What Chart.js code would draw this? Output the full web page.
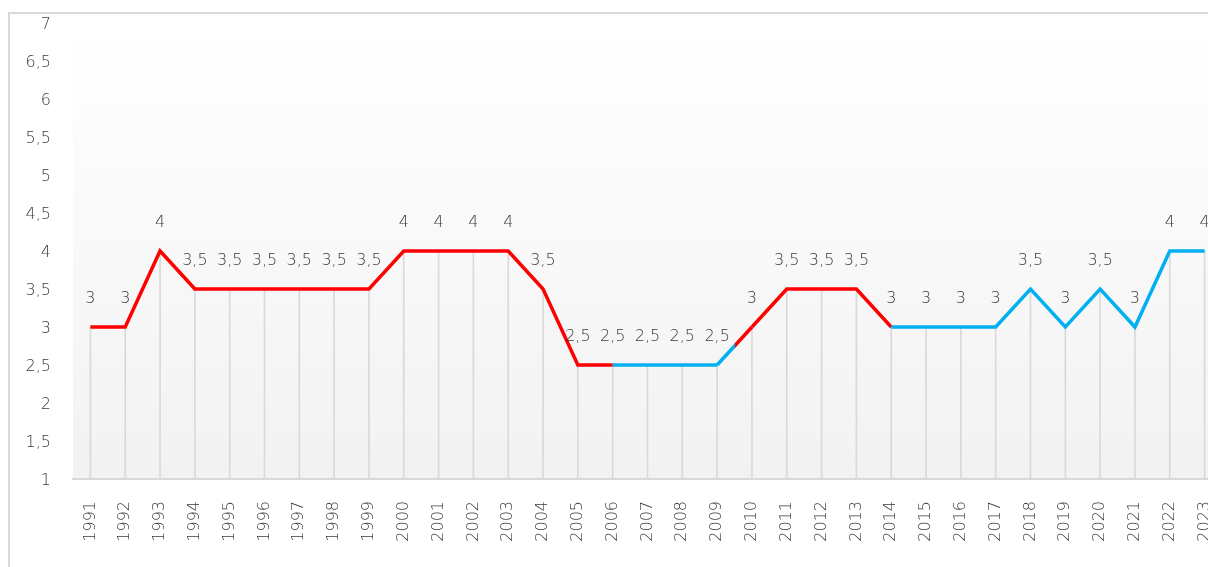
<!DOCTYPE html>
<html>
<head>
<meta charset="utf-8">
<script src="https://cdn.jsdelivr.net/npm/chart.js@4"></script>
<style>
  html, body { margin: 0; padding: 0; background: #fff; overflow: hidden; }
  #frame { position: absolute; left: 8px; top: 12px; width: 1300px; height: 600px;
           border-top: 2px solid #d9d9d9; border-left: 2px solid #d9d9d9; box-sizing: border-box; }
  #myChart { position: absolute; left: 0; top: 0; }
</style>
</head>
<body>
<div id="frame"></div>
<canvas id="myChart" width="1240" height="567"></canvas>
<script>
'use strict';

let years = ['1991','1992','1993','1994','1995','1996','1997','1998','1999','2000',
  '2001','2002','2003','2004','2005','2006','2007','2008','2009','2010',
  '2011','2012','2013','2014','2015','2016','2017','2018','2019','2020',
  '2021','2022','2023'];
let values = [3,3,4,3.5,3.5,3.5,3.5,3.5,3.5,4,
  4,4,4,3.5,2.5,2.5,2.5,2.5,2.5,3,
  3.5,3.5,3.5,3,3,3,3,3.5,3,3.5,
  3,4,4];
let yMin = 1;
let yMax = 7;
let yStep = 0.5;

let red = '#ff0000';
let blue = '#00b0f0';
let textColor = '#3a3a3a';
let font = { family: "'DejaVu Sans', sans-serif", size: 16, weight: '200' };

// colour of the segment that starts at point i
function segColor(ctx){
  let i = ctx.p0DataIndex;
  if(i <= 14) return red;
  if(i <= 17) return blue;
  if(i === 18){
    // 2009 -> 2010 : half blue, half red
    let c = ctx.chart.ctx;
    let g = c.createLinearGradient(ctx.p0.x, 0, ctx.p1.x, 0);
    g.addColorStop(0, blue);
    g.addColorStop(0.5, blue);
    g.addColorStop(0.5, red);
    g.addColorStop(1, red);
    return g;
  }
  if(i <= 22) return red;
  return blue;
}

let areaBg = {
  id: 'areaBg',
  beforeDraw(chart){
    let a = chart.chartArea;
    let c = chart.ctx;
    let g = c.createLinearGradient(0, a.top, 0, a.bottom);
    g.addColorStop(0, '#ffffff');
    g.addColorStop(1, '#f2f2f2');
    c.save();
    c.fillStyle = g;
    c.fillRect(a.left, a.top, a.right - a.left, a.bottom - a.top);
    c.restore();
  }
};

let pointLabels = {
  id: 'pointLabels',
  afterDatasetsDraw(chart){
    let c = chart.ctx;
    let meta = chart.getDatasetMeta(1);
    c.save();
    c.font = font.weight + ' ' + font.size + 'px ' + font.family;
    c.fillStyle = textColor;
    c.textAlign = 'center';
    c.textBaseline = 'middle';
    meta.data.forEach(function(pt, i){
      c.fillText(String(values[i]).replace('.', ','), pt.x, pt.y - 28);
    });
    c.restore();
  }
};

let ctx = document.getElementById('myChart').getContext('2d');
let myChart = new Chart(ctx, {
  type: 'bar',
  data: {
    labels: years,
    datasets: [{
      type: 'bar',
      data: values,
      backgroundColor: '#d9d9d9',
      barThickness: 1,
      order: 2
    },{
      type: 'line',
      data: values,
      borderColor: red,
      borderWidth: 3.5,
      pointRadius: 0,
      tension: 0,
      fill: false,
      segment: { borderColor: segColor },
      order: 0
    }]
  },
  plugins: [areaBg, pointLabels],
  options: {
    responsive: false,
    animation: false,
    layout: { padding: { top: 23, right: 18, left: 0, bottom: 0 } },
    plugins: { legend: { display: false }, tooltip: { enabled: false } },
    scales: {
      x: {
        offset: true,
        grid: { display: false, drawTicks: false },
        border: { display: true, color: '#d9d9d9', width: 2 },
        ticks: { color: textColor, font: font, minRotation: 90, maxRotation: 90, padding: 22, autoSkip: false },
        afterFit(s){ s.height = 88; s.paddingLeft = 0; s.paddingRight = 0; }
      },
      y: {
        min: yMin,
        max: yMax,
        grid: { display: false, drawTicks: false },
        border: { display: false },
        ticks: {
          stepSize: yStep,
          color: textColor,
          font: font,
          padding: 22,
          labelOffset: 2,
          callback: function(v){ return String(v).replace('.', ','); }
        },
        afterFit(s){ s.width = 73; s.paddingTop = 0; s.paddingBottom = 0; }
      }
    }
  }
});
</script>
</body>
</html>
